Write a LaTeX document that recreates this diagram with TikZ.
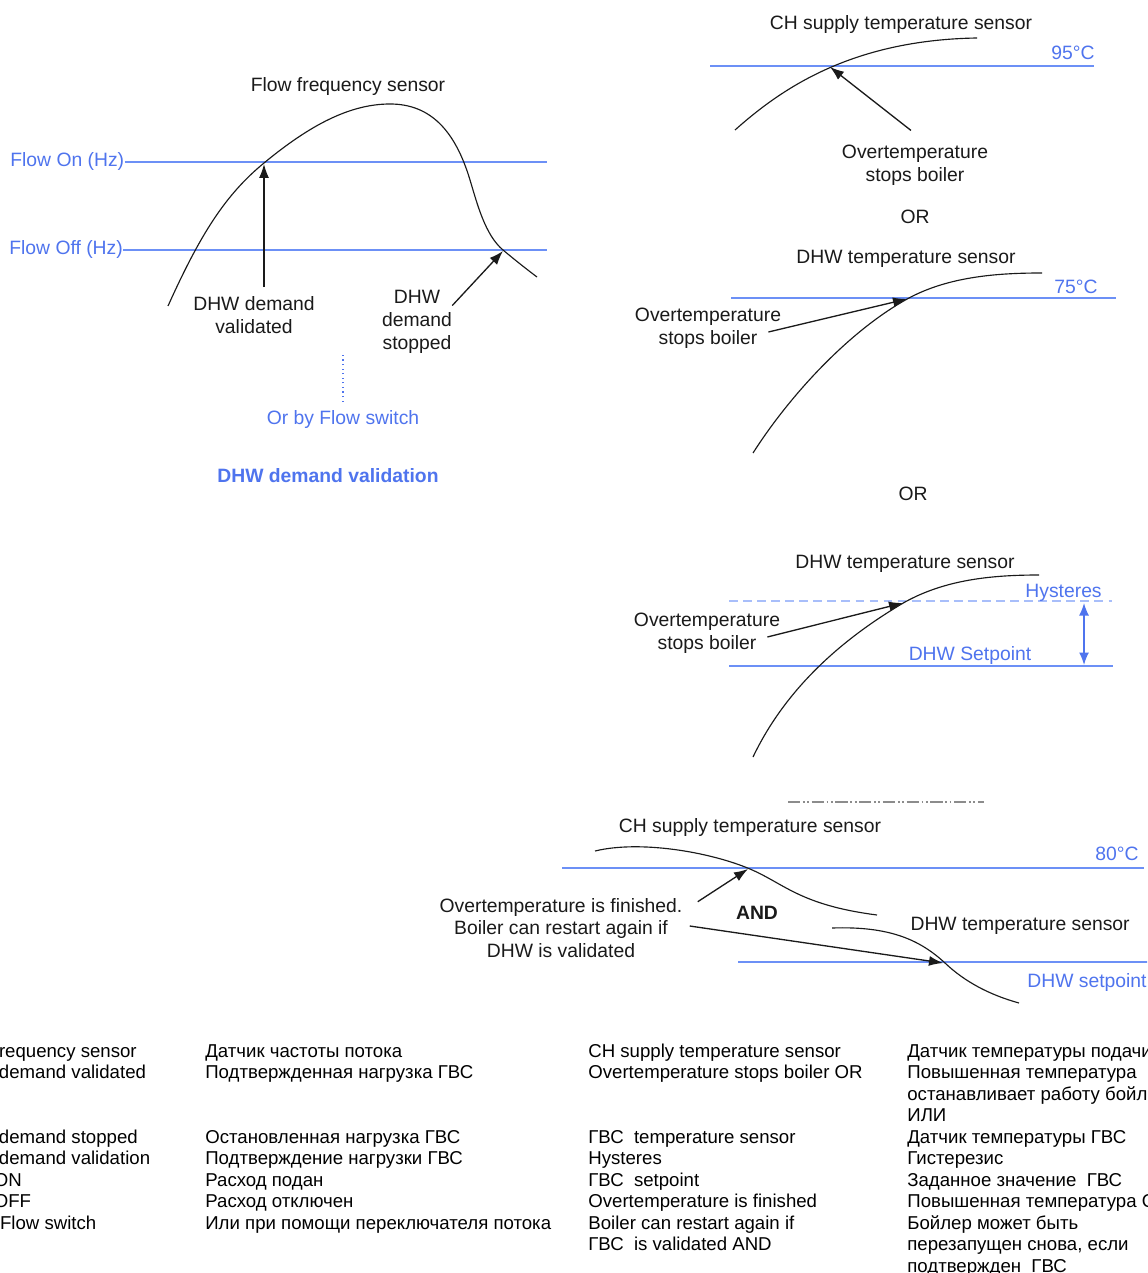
\documentclass[tikz,border=0pt]{standalone}
\usepackage{fontspec}
\setmainfont{Liberation Sans}
\usetikzlibrary{arrows.meta,positioning,calc}
\definecolor{dhwBlue}{HTML}{6C90F6}
\definecolor{dhwBlueText}{HTML}{4F74EE}
\definecolor{dhwBlueLight}{HTML}{A8BEFA}
\definecolor{dhwInk}{HTML}{1A1A1A}
\definecolor{dhwGray}{HTML}{8C8C8C}
\tikzset{
  dhwCurve/.style={draw=dhwInk, line width=0.65pt},
  dhwLevel/.style={draw=dhwBlue, line width=0.85pt},
  dhwHyst/.style={draw=dhwBlueLight, line width=0.85pt, dash pattern=on 5pt off 3pt},
  dhwArrow/.style={-{Latex[length=2.8mm,width=2mm]}, line width=0.75pt, draw=dhwInk},
  dhwLabel/.style={
    font=\fontsize{11}{13}\selectfont,
    text=dhwInk,
    align=center,
    inner sep=0pt
  },
  dhwLevelText/.style={dhwLabel, text=dhwBlueText},
  dhwBold/.style={dhwLabel, font=\fontsize{11}{13}\selectfont\bfseries},
  dhwTable/.style={
    font=\fontsize{10.6}{12.2}\selectfont,
    text=black,
    anchor=base west,
    inner sep=0pt
  }
}

\begin{document}
\begin{tikzpicture}[x=0.02cm, y=-0.02cm]
  \useasboundingbox (0,0) rectangle (1147,1273);
  \fill[white] (0,0) rectangle (1147,1273);
  \clip (0,0) rectangle (1147,1273);

  % flow frequency sensor
  \node[dhwLabel] (flowSensor) at (348,87) {Flow frequency sensor};
  \node[dhwLevelText, anchor=west] (flowOn) at (10,162) {Flow On (Hz)};
  \node[dhwLevelText, anchor=west] (flowOff) at (9,250) {Flow Off (Hz)};
  \coordinate (flowOnEnd) at (547,162);
  \coordinate (flowOffEnd) at (547,250);
  \draw[dhwLevel] (flowOn.east) -- (flowOnEnd);
  \draw[dhwLevel] (flowOff.east) -- (flowOffEnd);
  \coordinate (onHit) at (264,164);
  \coordinate (offHit) at (503,251);
  \draw[dhwCurve] (168,306) .. controls (200,235) and (225,195) .. (264,163)
    .. controls (310,125) and (350,104) .. (390,104)
    .. controls (430,104) and (455,130) .. (470,180)
    .. controls (477,203) and (485,235) .. (503,250)
    .. controls (515,260) and (525,268) .. (537,277);

  \node[dhwLabel] (validated) at (254,315) {DHW demand\\validated};
  \node[dhwLabel] (stopped) at (417,322) {DHW\\demand\\stopped};
  \draw[dhwArrow] ($(validated.north -| onHit)+(0,-9)$) -- (onHit);
  \draw[dhwArrow] (stopped.25) -- (offHit);

  \coordinate (switchTop) at (343,352);
  \node[dhwLevelText] (flowSwitch) at (343,420) {Or by Flow switch};
  \draw[dhwBlueText, line width=0.6pt, dotted] ($(flowSwitch.north)+(0,-9)$) -- (switchTop);
  \node[dhwBold, text=dhwBlueText] (valTitle) at (328,476) {DHW demand validation};

  % CH supply overtemperature
  \node[dhwLabel] (chSensor) at (901,25) {CH supply temperature sensor};
  \coordinate (lvl95W) at (710,66);
  \coordinate (lvl95E) at (1094,66);
  \draw[dhwLevel] (lvl95W) -- (lvl95E);
  \node[dhwLevelText, anchor=base east] (t95) at (1095,60) {95°C};
  \draw[dhwCurve] (735,130) .. controls (780,90) and (850,40) .. (977,38);
  \coordinate (hit95) at (830,67);
  \node[dhwLabel] (overStop1) at (915,165) {Overtemperature\\stops boiler};
  \draw[dhwArrow] ($(overStop1.north)+(-4,-14)$) -- (hit95);
  \node[dhwLabel, below=14pt of overStop1] (or1) {OR};

  % DHW overtemperature
  \node[dhwLabel] (dhwSensor1) at (906,259) {DHW temperature sensor};
  \coordinate (lvl75W) at (731,298);
  \coordinate (lvl75E) at (1116,298);
  \draw[dhwLevel] (lvl75W) -- (lvl75E);
  \node[dhwLevelText, anchor=base east] (t75) at (1098,294) {75°C};
  \draw[dhwCurve] (753,453) .. controls (790,395) and (850,330) .. (909,298)
    .. controls (950,276) and (1000,273) .. (1042,273);
  \coordinate (hit75) at (907,299);
  \node[dhwLabel] (overStop2) at (708,328) {Overtemperature\\stops boiler};
  \draw[dhwArrow] ($(overStop2.east)+(-13,4)$) -- (hit75);
  \node[dhwLabel] (or2) at (913,494) {OR};

  % DHW hysteresis
  \node[dhwLabel] (dhwSensor2) at (905,564) {DHW temperature sensor};
  \coordinate (hystW) at (729,601);
  \coordinate (hystE) at (1112,601);
  \coordinate (setW) at (729,666);
  \coordinate (setE) at (1113,666);
  \draw[dhwHyst] (hystW) -- (hystE);
  \draw[dhwLevel] (setW) -- (setE);
  \node[dhwLevelText, anchor=base east] (tHyst) at (1102,597) {Hysteres};
  \node[dhwLevelText, anchor=base] (tSet) at (970,660) {DHW Setpoint};
  \coordinate (hystTop) at (1084,603);
  \coordinate (setBot) at (1084,665);
  \draw[{Latex[length=2.5mm,width=2mm]}-{Latex[length=2.5mm,width=2mm]}, dhwBlueText, line width=0.9pt] (hystTop) -- (setBot);
  \draw[dhwCurve] (753,757) .. controls (785,690) and (840,640) .. (905,602)
    .. controls (945,580) and (990,575) .. (1039,575);
  \coordinate (hitHyst) at (903,603);
  \node[dhwLabel] (overStop3) at (707,633) {Overtemperature\\stops boiler};
  \draw[dhwArrow] ($(overStop3.east)+(-13,4)$) -- (hitHyst);

  \coordinate (sepW) at (788,802);
  \coordinate (sepE) at (984,802);
  \draw[dhwGray, line width=0.8pt, dash pattern=on 7pt off 1.5pt on 1pt off 1.5pt on 1pt off 1.5pt] (sepW) -- (sepE);

  % restart
  \node[dhwLabel] (chSensor2) at (750,827) {CH supply temperature sensor};
  \coordinate (lvl80W) at (562,868);
  \coordinate (lvl80E) at (1144,868);
  \draw[dhwLevel] (lvl80W) -- (lvl80E);
  \node[dhwLevelText, anchor=base east] (t80) at (1139,860) {80°C};
  \draw[dhwCurve] (595,851) .. controls (640,840) and (710,852) .. (750,869)
    .. controls (785,884) and (800,905) .. (877,915);
  \coordinate (hit80) at (748,869);

  \node[dhwBold] (andNode) at (757,913) {AND};
  \node[dhwLabel, anchor=east] (dhwSensor3) at (1130,926) {DHW temperature sensor};
  \coordinate (lvlSetW) at (738,962);
  \coordinate (lvlSetE) at (1150,962);
  \draw[dhwLevel] (lvlSetW) -- (lvlSetE);
  \node[dhwLevelText, anchor=base west] (tSet2) at (1027,987) {DHW setpoint};
  \draw[dhwCurve] (832,928) .. controls (890,926) and (920,940) .. (945,963)
    .. controls (965,982) and (990,995) .. (1019,1003);
  \coordinate (hitSet) at (943,963);

  \node[dhwLabel] (restart) at (561,928) {Overtemperature is finished.\\Boiler can restart again if\\DHW is validated};
  \draw[dhwArrow] ($(restart.north east)+(15,4)$) -- (hit80);
  \draw[dhwArrow] ($(restart.east)+(7,-2)$) -- (hitSet);

  % glossary
  \foreach \colA/\colB/\colC/\colD [count=\row] in {
      Flow frequency sensor/Датчик частоты потока/CH supply temperature sensor/Датчик температуры подачи,
      DHW demand validated/Подтвержденная нагрузка ГВС/Overtemperature stops boiler OR/Повышенная температура,
      {}/{}/{}/останавливает работу бойлера,
      {}/{}/{}/ИЛИ,
      DHW demand stopped/Остановленная нагрузка ГВС/ГВС~~temperature sensor/Датчик температуры ГВС,
      DHW demand validation/Подтверждение нагрузки ГВС/Hysteres/Гистерезис,
      Flow ON/Расход подан/ГВС~~setpoint/Заданное значение~~ГВС,
      Flow OFF/Расход отключен/Overtemperature is finished/Повышенная температура Окончена,
      Or by Flow switch/Или при помощи переключателя потока/Boiler can restart again if/Бойлер может быть,
      {}/{}/ГВС~~is validated AND/{перезапущен снова, если},
      {}/{}/{}/подтвержден~~ГВС}
  {
    \pgfmathsetmacro\rowY{1057+(\row-1)*21.5}
    \node[dhwTable] (gEn\row) at (-51,\rowY) {\colA};
    \node[dhwTable] (gRu\row) at (205,\rowY) {\colB};
    \node[dhwTable] (tEn\row) at (588,\rowY) {\colC};
    \node[dhwTable] (tRu\row) at (907,\rowY) {\colD};
  }
\end{tikzpicture}
\end{document}
